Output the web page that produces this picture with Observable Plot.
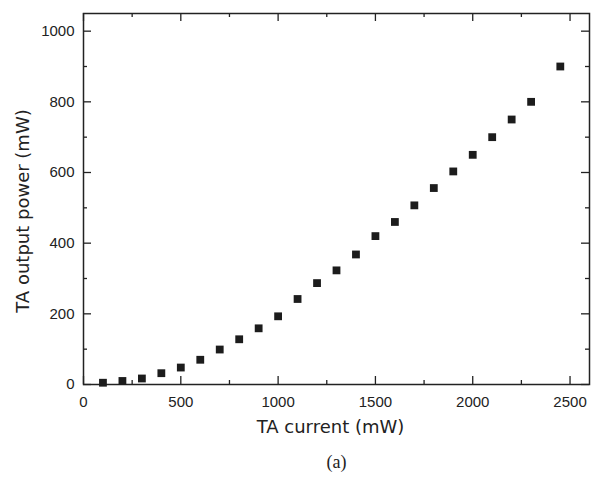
<!DOCTYPE html>
<html>
<head>
<meta charset="utf-8">
<script src="https://cdn.jsdelivr.net/npm/d3@7"></script>
<script src="https://cdn.jsdelivr.net/npm/@observablehq/plot@0.6"></script>
<style>
  html, body { margin: 0; padding: 0; background: #fff; }
</style>
</head>
<body>
<div id="chart"></div>
<script>
const currentX = [100, 200, 300, 400, 500, 600, 700, 800, 900, 1000, 1100, 1200,
                  1300, 1400, 1500, 1600, 1700, 1800, 1900, 2000, 2100, 2200, 2300, 2450];
const powerY = [5, 10, 17, 32, 48, 70, 99, 128, 159, 193, 242, 287,
                323, 368, 420, 460, 507, 556, 603, 650, 700, 750, 800, 900];
const xMajor = [0, 500, 1000, 1500, 2000, 2500];
const xMinor = [250, 750, 1250, 1750, 2250];
const yMajor = [0, 200, 400, 600, 800, 1000];
const yMinor = [100, 300, 500, 700, 900];
const xLabel = "TA current (mW)";
const yLabel = "TA output power (mW)";
const caption = "(a)";

const data = currentX.map((x, i) => ({x, y: powerY[i]}));

const W = 606, H = 478;
const mL = 83, mR = 17, mT = 13, mB = 94;
const fw = W - mL - mR, fh = H - mT - mB;
const ink = "#222";
const major = 8, minor = 4;
const tickFont = "'Liberation Sans', Arial, sans-serif";
const labelFont = "'DejaVu Sans', sans-serif";

const chart = Plot.plot({
  width: W,
  height: H,
  marginLeft: mL,
  marginRight: mR,
  marginTop: mT,
  marginBottom: mB,
  style: {fontFamily: tickFont, background: "#fff", color: ink},
  x: {domain: [0, 2600]},
  y: {domain: [0, 1050]},
  marks: [
    Plot.tickX(xMajor, {x: d => d, insetTop: fh - major, stroke: ink, strokeWidth: 1.3}),
    Plot.tickX(xMinor, {x: d => d, insetTop: fh - minor, stroke: ink, strokeWidth: 1.3}),
    Plot.tickX(xMajor, {x: d => d, insetBottom: fh - major, stroke: ink, strokeWidth: 1.3}),
    Plot.tickX(xMinor, {x: d => d, insetBottom: fh - minor, stroke: ink, strokeWidth: 1.3}),
    Plot.tickY(yMajor, {y: d => d, insetRight: fw - major, stroke: ink, strokeWidth: 1.3}),
    Plot.tickY(yMinor, {y: d => d, insetRight: fw - minor, stroke: ink, strokeWidth: 1.3}),
    Plot.tickY(yMajor, {y: d => d, insetLeft: fw - major, stroke: ink, strokeWidth: 1.3}),
    Plot.tickY(yMinor, {y: d => d, insetLeft: fw - minor, stroke: ink, strokeWidth: 1.3}),
    Plot.frame({stroke: ink, strokeWidth: 1.5}),
    Plot.axisX(xMajor, {tickSize: 0, tickPadding: 12, fontSize: 15, fontFamily: tickFont,
      tickFormat: d3.format("d"), label: null, fill: ink}),
    Plot.axisY(yMajor, {tickSize: 0, tickPadding: 9, fontSize: 15, fontFamily: tickFont,
      tickFormat: d3.format("d"), label: null, fill: ink}),
    Plot.dot(data, {x: "x", y: "y", symbol: "square", r: 4.4, fill: "#1c1c1c", stroke: "none"}),
    Plot.text([xLabel], {text: d => d, frameAnchor: "bottom", dy: 43, dx: -6,
      fontFamily: labelFont, fontSize: 18, fill: ink, lineAnchor: "middle", textAnchor: "middle"}),
    Plot.text([yLabel], {text: d => d, frameAnchor: "left", dx: -60, dy: 12, rotate: -90,
      fontFamily: labelFont, fontSize: 18, fill: ink, lineAnchor: "middle", textAnchor: "middle"}),
    Plot.text([caption], {text: d => d, frameAnchor: "bottom", dy: 78, dx: 0,
      fontFamily: "'Liberation Serif', serif", fontSize: 18, fill: ink, lineAnchor: "middle", textAnchor: "middle"})
  ]
});
document.getElementById("chart").appendChild(chart);
</script>
</body>
</html>
